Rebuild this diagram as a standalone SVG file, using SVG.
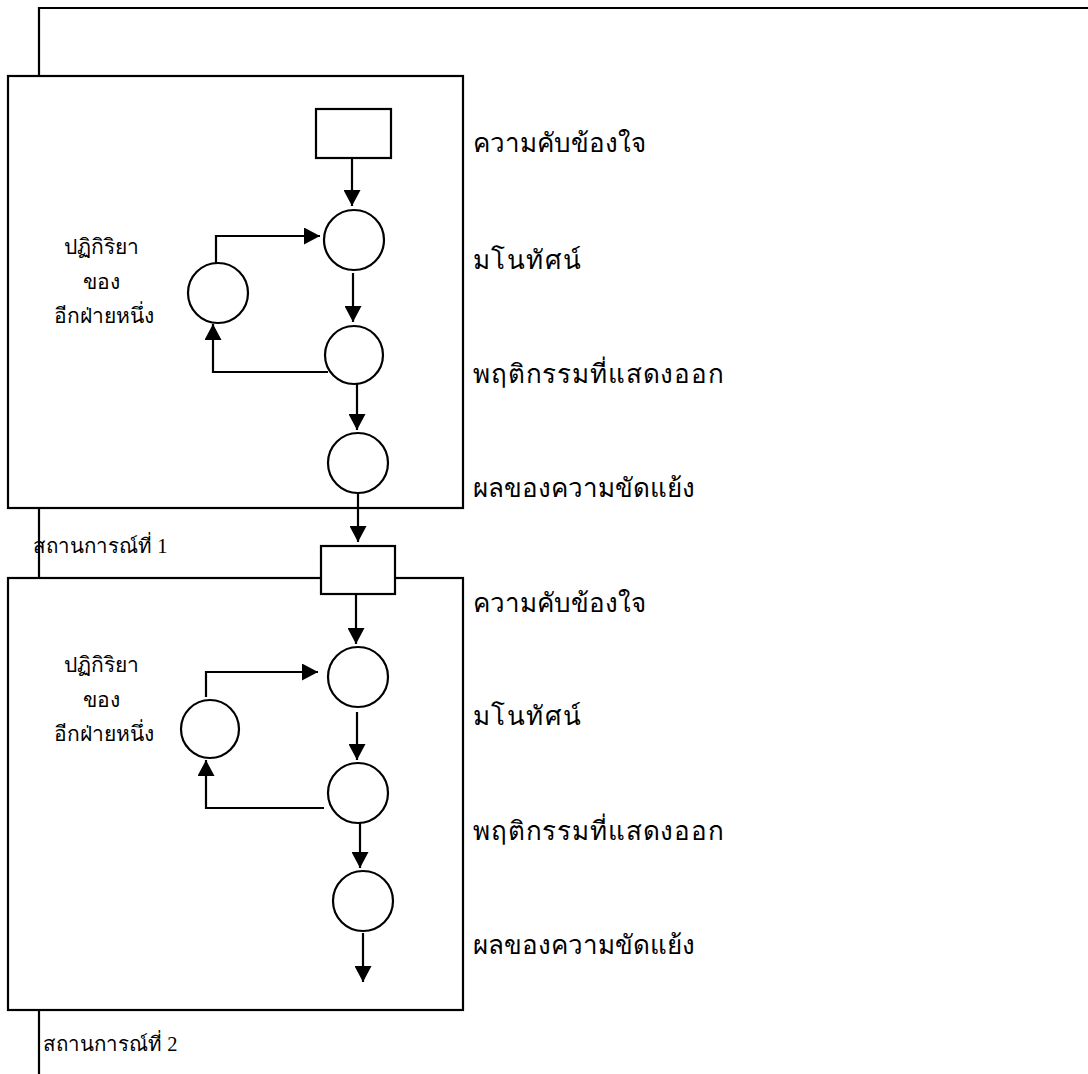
<svg xmlns="http://www.w3.org/2000/svg" width="1088" height="1074" viewBox="0 0 1088 1074">
<defs>
<style>
.ln{fill:none;stroke:#000;stroke-width:2.2}
.nd{fill:#fff;stroke:#000;stroke-width:2.2}
.lbl{font-family:"Liberation Serif","DejaVu Serif",serif;font-size:26px;fill:#000}
.sm{font-family:"Liberation Serif","DejaVu Serif",serif;font-size:21px;fill:#000}
.ttl{font-family:"Liberation Serif","DejaVu Serif",serif;font-size:20.5px;fill:#000}
</style>
<marker id="ah" viewBox="0 0 16 17" refX="16" refY="8.5" markerWidth="16" markerHeight="17" markerUnits="userSpaceOnUse" orient="auto">
<path d="M0,0 L16,8.5 L0,17 Z" fill="#000"/>
</marker>
</defs>
<g id="frame">
<polyline class="ln" points="39,76 39,8 1088,8"/>
<line class="ln" x1="39" y1="508" x2="39" y2="578"/>
<line class="ln" x1="39" y1="1010" x2="39" y2="1074"/>
</g>
<g id="situation1">
<rect class="nd" x="8" y="76" width="455" height="432"/>
</g>
<g id="situation2">
<rect class="nd" x="8" y="578" width="455" height="432"/>
</g>
<g id="connectors">
<line class="ln" x1="352" y1="158" x2="352" y2="206" marker-end="url(#ah)"/>
<line class="ln" x1="353" y1="273" x2="353" y2="322" marker-end="url(#ah)"/>
<polyline class="ln" points="328,372 213,372 213,324" marker-end="url(#ah)"/>
<polyline class="ln" points="216,263 216,236 320,236" marker-end="url(#ah)"/>
<line class="ln" x1="357" y1="382" x2="357" y2="430" marker-end="url(#ah)"/>
<line class="ln" x1="358" y1="493" x2="358" y2="542" marker-end="url(#ah)"/>
<line class="ln" x1="356" y1="594" x2="356" y2="644" marker-end="url(#ah)"/>
<line class="ln" x1="357" y1="712" x2="357" y2="760" marker-end="url(#ah)"/>
<polyline class="ln" points="324,808 206,808 206,760" marker-end="url(#ah)"/>
<polyline class="ln" points="206,697 206,672 318,672" marker-end="url(#ah)"/>
<line class="ln" x1="360" y1="820" x2="360" y2="868" marker-end="url(#ah)"/>
<line class="ln" x1="363" y1="933" x2="363" y2="982" marker-end="url(#ah)"/>
</g>
<g id="frustration1"><rect class="nd" x="316" y="109" width="75" height="49"/></g>
<g id="perception1"><circle class="nd" cx="354" cy="240" r="30"/></g>
<g id="reaction1"><circle class="nd" cx="218" cy="293" r="30"/></g>
<g id="behavior1"><circle class="nd" cx="354" cy="355" r="29"/></g>
<g id="outcome1"><circle class="nd" cx="358" cy="463" r="30"/></g>
<g id="frustration2"><rect class="nd" x="321" y="546" width="74" height="48"/></g>
<g id="perception2"><circle class="nd" cx="358" cy="677" r="30"/></g>
<g id="reaction2"><circle class="nd" cx="210" cy="729" r="29"/></g>
<g id="behavior2"><circle class="nd" cx="358" cy="793" r="30"/></g>
<g id="outcome2"><circle class="nd" cx="363" cy="901" r="30"/></g>
<g id="labels">
<text class="lbl" x="473" y="152">ความคับข้องใจ</text>
<text class="lbl" x="473" y="269" textLength="108" lengthAdjust="spacing">มโนทัศน์</text>
<text class="lbl" x="473" y="383" textLength="251" lengthAdjust="spacing">พฤติกรรมที่แสดงออก</text>
<text class="lbl" x="473" y="497">ผลของความขัดแย้ง</text>
<text class="lbl" x="473" y="612">ความคับข้องใจ</text>
<text class="lbl" x="473" y="725" textLength="108" lengthAdjust="spacing">มโนทัศน์</text>
<text class="lbl" x="473" y="840" textLength="251" lengthAdjust="spacing">พฤติกรรมที่แสดงออก</text>
<text class="lbl" x="473" y="954">ผลของความขัดแย้ง</text>
<text class="sm" x="101" y="254" text-anchor="middle">ปฏิกิริยา</text>
<text class="sm" x="101" y="289" text-anchor="middle">ของ</text>
<text class="sm" x="104" y="323" text-anchor="middle">อีกฝ่ายหนึ่ง</text>
<text class="sm" x="101" y="672" text-anchor="middle">ปฏิกิริยา</text>
<text class="sm" x="101" y="707" text-anchor="middle">ของ</text>
<text class="sm" x="104" y="741" text-anchor="middle">อีกฝ่ายหนึ่ง</text>
<text class="ttl" x="33" y="553">สถานการณ์ที่ 1</text>
<text class="ttl" x="43" y="1051">สถานการณ์ที่ 2</text>
</g>
</svg>
